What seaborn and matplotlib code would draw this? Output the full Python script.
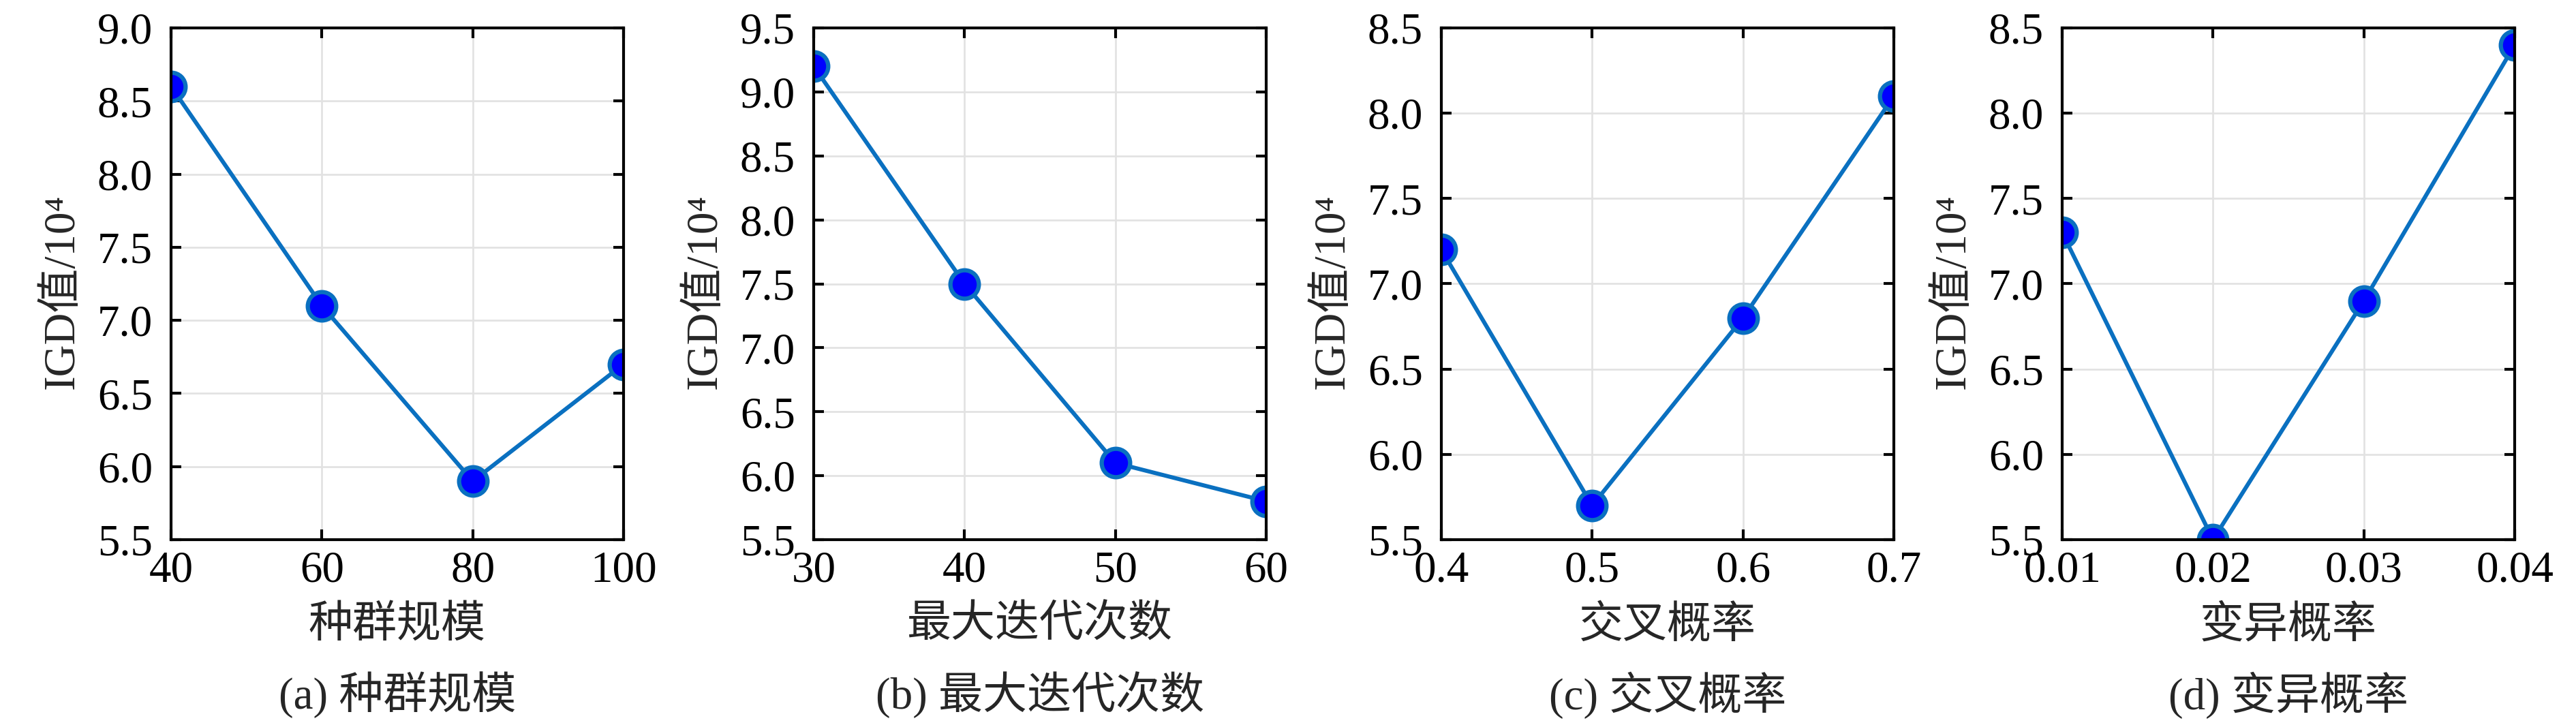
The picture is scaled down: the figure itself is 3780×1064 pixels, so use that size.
"""
igd_sensitivity.py
IGD value versus four algorithm parameters, four panels side by side.
"""

import matplotlib
matplotlib.use("Agg")
import matplotlib.pyplot as plt
import seaborn as sns
import pandas as pd

# --- data ---
pop_size = [40, 60, 80, 100]
igd_pop = [8.6, 7.1, 5.9, 6.7]

max_iter = [30, 40, 50, 60]
igd_iter = [9.2, 7.5, 6.1, 5.8]

cross_prob = [0.4, 0.5, 0.6, 0.7]
igd_cross = [7.2, 5.7, 6.8, 8.1]

mut_prob = [0.01, 0.02, 0.03, 0.04]
igd_mut = [7.3, 5.5, 6.9, 8.4]

xtick_labels = [
    ["40", "60", "80", "100"],
    ["30", "40", "50", "60"],
    ["0.4", "0.5", "0.6", "0.7"],
    ["0.01", "0.02", "0.03", "0.04"],
]
y_ranges = [(5.5, 9.0), (5.5, 9.5), (5.5, 8.5), (5.5, 8.5)]
x_names = ["种群规模", "最大迭代次数", "交叉概率", "变异概率"]
captions = ["(a) 种群规模", "(b) 最大迭代次数", "(c) 交叉概率", "(d) 变异概率"]
y_name = "IGD值/10⁴"

panels = [
    (pop_size, igd_pop),
    (max_iter, igd_iter),
    (cross_prob, igd_cross),
    (mut_prob, igd_mut),
]

sns.set_theme(style="ticks")
plt.rcParams["font.family"] = ["Liberation Serif", "Noto Sans CJK SC", "DejaVu Serif"]
plt.rcParams["font.size"] = 15.6
plt.rcParams["axes.unicode_minus"] = False

W, H = 3780, 1064
fig = plt.figure(figsize=(W / 300, H / 300), dpi=300)

lefts = [251, 1194, 2115, 3026]
ax_w, ax_top, ax_bot = 664, 41, 792

line_color = "#0a70c0"

for i, (xs, ys) in enumerate(panels):
    ax = fig.add_axes([lefts[i] / W, 1 - ax_bot / H, ax_w / W, (ax_bot - ax_top) / H])
    df = pd.DataFrame({"x": xs, "y": ys})
    sns.lineplot(data=df, x="x", y="y", ax=ax, color=line_color, linewidth=1.45,
                 marker="o", markersize=10, markerfacecolor="#0000ff",
                 markeredgecolor=line_color, markeredgewidth=1.5)

    ax.set_xlim(xs[0], xs[-1])
    ax.set_xticks(xs)
    ax.set_xticklabels(xtick_labels[i])
    lo, hi = y_ranges[i]
    yt = [lo + 0.5 * k for k in range(int(round((hi - lo) / 0.5)) + 1)]
    ax.set_ylim(lo, hi)
    ax.set_yticks(yt)
    ax.set_yticklabels([f"{v:.1f}" for v in yt])

    ax.grid(True, color="#e2e2e2", linewidth=0.65)
    ax.set_axisbelow(True)
    for sp in ax.spines.values():
        sp.set_visible(True)
        sp.set_color("black")
        sp.set_linewidth(1.0)
    ax.tick_params(direction="in", top=True, right=True, length=3.6, width=1.0,
                   colors="black", labelsize=15.6)
    ax.tick_params(axis="x", pad=3.8)
    ax.tick_params(axis="y", pad=6.5)

    ax.set_xlabel(x_names[i], fontsize=15.6)
    ax.xaxis.label.set_va("center")
    ax.xaxis.set_label_coords(0.5, -(919 - ax_bot) / (ax_bot - ax_top))
    ax.set_ylabel(y_name, fontsize=15.6)
    ax.yaxis.set_label_coords(-0.195, 0.485)

    ax.text(0.5, -(1020 - ax_bot) / (ax_bot - ax_top), captions[i],
            transform=ax.transAxes, ha="center", va="center", fontsize=15.6)

fig.savefig("out.png", dpi=300, facecolor="white")
plt.close(fig)
